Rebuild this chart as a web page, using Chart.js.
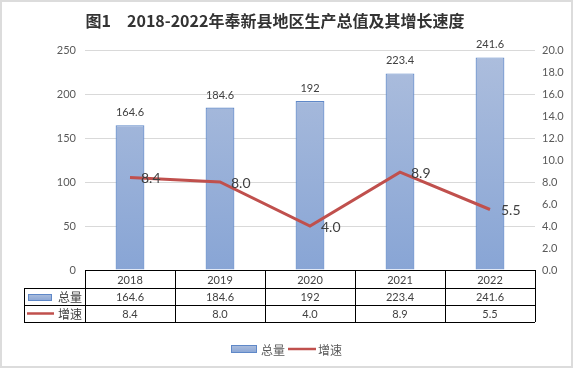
<!DOCTYPE html>
<html>
<head>
<meta charset="utf-8">
<script src="https://cdn.jsdelivr.net/npm/chart.js@4"></script>
<style>
  html, body { margin: 0; padding: 0; background: #fff; }
  #wrap { width: 573px; height: 368px; position: relative; }
</style>
</head>
<body>
<div id="wrap"><canvas id="myChart" width="573" height="368"></canvas></div>
<script>
const title = '图1　2018-2022年奉新县地区生产总值及其增长速度';
const years = ['2018', '2019', '2020', '2021', '2022'];
const totals = [164.6, 184.6, 192, 223.4, 241.6];
const growth = [8.4, 8.0, 4.0, 8.9, 5.5];
const totalLabels = ['164.6', '184.6', '192', '223.4', '241.6'];
const growthLabels = ['8.4', '8.0', '4.0', '8.9', '5.5'];
const seriesNames = ['总量', '增速'];

const FONT = "Lato, 'Noto Sans CJK SC', sans-serif";
const barTop = '#adbedd';
const barBottom = '#88a5d5';
const barEdge = '#5f88c8';
const lineRed = '#c0504d';

function barGradient(ctx, top, bottom) {
    const g = ctx.createLinearGradient(0, top, 0, bottom);
    g.addColorStop(0, barTop);
    g.addColorStop(1, barBottom);
    return g;
}

function drawBarKey(ctx, x, y, w, h) {
    ctx.fillStyle = barGradient(ctx, y, y + h);
    ctx.fillRect(x, y, w, h);
    ctx.strokeStyle = barEdge;
    ctx.lineWidth = 1;
    ctx.strokeRect(x + 0.5, y + 0.5, w - 1, h - 1);
}

function drawLineKey(ctx, x1, x2, y) {
    ctx.strokeStyle = lineRed;
    ctx.lineWidth = 2.5;
    ctx.beginPath();
    ctx.moveTo(x1, y);
    ctx.lineTo(x2, y);
    ctx.stroke();
}

// title, data labels, data table, legend and outer frame
const extras = {
    id: 'extras',
    afterDatasetsDraw(chart) {
        const ctx = chart.ctx;
        const area = chart.chartArea;
        const xScale = chart.scales.x;
        ctx.save();

        // value labels
        ctx.fillStyle = '#404040';
        ctx.textAlign = 'center';
        ctx.textBaseline = 'bottom';
        ctx.font = '11px ' + FONT;
        chart.getDatasetMeta(0).data.forEach((bar, i) => {
            ctx.fillText(totalLabels[i], bar.x, bar.y - 7);
        });
        ctx.textAlign = 'left';
        ctx.textBaseline = 'middle';
        ctx.font = '14px ' + FONT;
        chart.getDatasetMeta(1).data.forEach((pt, i) => {
            ctx.fillText(growthLabels[i], pt.x + 11, pt.y + 1);
        });

        // title
        ctx.fillStyle = '#333333';
        ctx.textAlign = 'center';
        ctx.textBaseline = 'middle';
        ctx.font = "bold 16px 'Noto Sans CJK SC', sans-serif";
        ctx.fillText(title, 275, 21);

        // data table
        const rowTop = area.bottom;
        const rowH = [18, 17, 17];
        const r1 = rowTop + rowH[0];
        const r2 = r1 + rowH[1];
        const r3 = r2 + rowH[2];
        const tLeft = 24;
        ctx.strokeStyle = '#000';
        ctx.lineWidth = 1;
        ctx.beginPath();
        ctx.moveTo(area.left, rowTop + 0.5); ctx.lineTo(area.right, rowTop + 0.5);
        [r1, r2, r3].forEach(y => { ctx.moveTo(tLeft, y + 0.5); ctx.lineTo(area.right, y + 0.5); });
        ctx.moveTo(tLeft + 0.5, r1); ctx.lineTo(tLeft + 0.5, r3);
        const step = (area.right - area.left) / years.length;
        for (let i = 0; i <= years.length; i++) {
            const x = Math.round(area.left + i * step) + 0.5;
            ctx.moveTo(x, rowTop); ctx.lineTo(x, r3);
        }
        ctx.stroke();

        ctx.fillStyle = '#404040';
        ctx.textAlign = 'center';
        ctx.font = '11px ' + FONT;
        years.forEach((yr, i) => {
            const cx = xScale.getPixelForValue(i);
            ctx.fillText(yr, cx, rowTop + rowH[0] / 2 + 1);
            ctx.fillText(totalLabels[i], cx, r1 + rowH[1] / 2 + 1);
            ctx.fillText(growthLabels[i], cx, r2 + rowH[2] / 2 + 1);
        });

        drawBarKey(ctx, 28, r1 + 6, 24, 7);
        drawLineKey(ctx, 27, 54, r2 + rowH[2] / 2);
        ctx.fillStyle = '#404040';
        ctx.textAlign = 'left';
        ctx.font = "12px 'Noto Sans CJK SC', sans-serif";
        ctx.fillText(seriesNames[0], 58, r1 + rowH[1] / 2 + 1);
        ctx.fillText(seriesNames[1], 58, r2 + rowH[2] / 2 + 1);

        // legend
        const ly = 349;
        drawBarKey(ctx, 231, ly - 4, 26, 8);
        drawLineKey(ctx, 288, 316, ly);
        ctx.fillStyle = '#595959';
        ctx.fillText(seriesNames[0], 261, ly + 1);
        ctx.fillText(seriesNames[1], 318, ly + 1);

        // frame
        ctx.strokeStyle = '#dcdcdc';
        ctx.lineWidth = 2;
        ctx.strokeRect(1, 1, 571, 366);

        ctx.restore();
    }
};

const ctx = document.getElementById('myChart');

new Chart(ctx, {
    type: 'bar',
    data: {
        labels: years,
        datasets: [{
            type: 'bar',
            label: seriesNames[0],
            data: totals,
            yAxisID: 'y',
            order: 1,
            backgroundColor: (c) => {
                const a = c.chart.chartArea;
                if (!a) return barBottom;
                return barGradient(c.chart.ctx, a.top, a.bottom);
            },
            borderColor: barEdge,
            borderWidth: 1.2,
            barPercentage: 0.32,
            categoryPercentage: 1
        }, {
            type: 'line',
            label: seriesNames[1],
            data: growth,
            yAxisID: 'y1',
            order: 0,
            borderColor: lineRed,
            borderWidth: 3,
            pointRadius: 0,
            tension: 0,
            fill: false
        }]
    },
    options: {
        responsive: false,
        animation: false,
        layout: { padding: { top: 50, bottom: 98, left: 0, right: 0 } },
        plugins: {
            legend: { display: false },
            tooltip: { enabled: false }
        },
        scales: {
            x: { display: false, offset: true },
            y: {
                position: 'left',
                min: 0, max: 250,
                ticks: { stepSize: 50, color: '#595959', font: { size: 11, family: FONT }, padding: 9 },
                grid: { color: '#d9d9d9', drawTicks: false },
                border: { display: false },
                afterFit: (s) => { s.width = 85; }
            },
            y1: {
                position: 'right',
                min: 0, max: 20,
                ticks: {
                    stepSize: 2, color: '#595959', font: { size: 11, family: FONT }, padding: 7,
                    callback: (v) => v.toFixed(1)
                },
                grid: { display: false, drawTicks: false },
                border: { display: false },
                afterFit: (s) => { s.width = 38; }
            }
        }
    },
    plugins: [extras]
});
</script>
</body>
</html>
